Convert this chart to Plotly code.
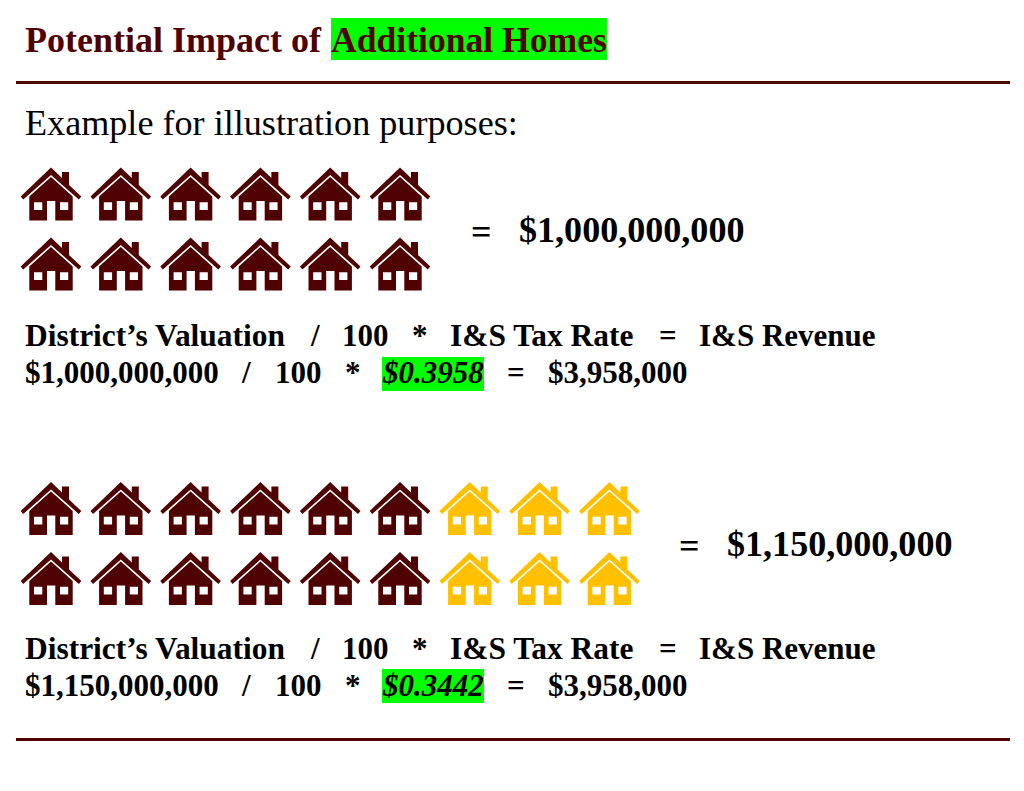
import plotly.graph_objects as go

# ---- data ----
HEADING_PLAIN = "Potential Impact of"
HEADING_MARK = "Additional Homes"
INTRO = "Example for illustration purposes:"
FORMULA_TERMS = ["District’s Valuation", "/", "100", "*", "I&S Tax Rate", "=", "I&S Revenue"]
valuations = ["$1,000,000,000", "$1,150,000,000"]
rates = ["$0.3958", "$0.3442"]
revenues = ["$3,958,000", "$3,958,000"]
existing_home_columns = [6, 6]
added_home_columns = [0, 3]
home_rows = [2, 2]

MAROON = "#4F0000"
GOLD = "#FFC000"
GREEN = "#00FF00"
SERIF = "Liberation Serif"

# ---- layout constants ----
GROUP_TOP = [167.5, 482]
ROW_STEP = 70
COL_STEP = 69.8
FIRST_X = 51
FORMULA_Y = [335, 648]
VALUE_Y = [372.5, 685.5]
BOX_Y = [374, 686]
TOTAL_Y = [230, 544]
TOTAL_EQ_X = [471, 679]
TOTAL_X = [519, 727]


def house_path(cx, top):
    """Pictogram house: cx = apex x, top = apex y."""
    pts = lambda L: "M" + "L".join(f"{cx + a:.1f},{top + b:.1f}" for a, b in L) + "Z"
    roof = [(0, 0), (11, 10.5), (11, 4.5), (18, 4.5), (18, 17.5), (30.3, 29), (27.8, 32),
            (0, 7.5), (-27.8, 32), (-30.3, 29)]
    body = [(0, 9.6), (21.7, 28.9), (21.7, 53), (4.3, 53), (4.3, 33.5), (-4, 33.5), (-4, 53),
            (-21.7, 53), (-21.7, 28.9)]
    win_l = [(-17, 34.8), (-8.7, 34.8), (-8.7, 42.6), (-17, 42.6)]
    win_r = [(9, 34.8), (17.2, 34.8), (17.2, 42.6), (9, 42.6)]
    return pts(roof) + pts(body) + pts(win_l) + pts(win_r)


shapes = []


def rect(x0, y0, x1, y1, color):
    shapes.append(dict(type="rect", x0=x0, y0=y0, x1=x1, y1=y1, fillcolor=color,
                       line=dict(width=0), layer="below"))


def rule(y):
    shapes.append(dict(type="line", x0=16, x1=1010, y0=y, y1=y, line=dict(color=MAROON, width=3)))


annotations = []


def label(x, y, text, size, color="#000000", font=SERIF):
    annotations.append(dict(x=x, y=y, text=text, showarrow=False, xanchor="left", yanchor="middle",
                            xref="x", yref="y", align="left", borderpad=0, borderwidth=0,
                            font=dict(family=font, size=size, color=color)))


rule(82.5)
rule(739.5)
rect(331, 18, 607, 60, GREEN)
label(25, 40, f"<b>{HEADING_PLAIN}</b>", 36, MAROON)
label(331, 40, f"<b>{HEADING_MARK}</b>", 35.6, MAROON)
label(25, 122.5, INTRO, 36.15)

FORMULA_X = [25, 309.5, 341.5, 412, 450, 658.5, 699]
FORMULA_SIZE = [31.45, 31, 31, 31, 31.45, 31, 31]
VALUE_X = [25, 241, 275, 345, 382, 507, 548]
for g in range(2):
    for r in range(home_rows[g]):
        for c in range(existing_home_columns[g] + added_home_columns[g]):
            color = MAROON if c < existing_home_columns[g] else GOLD
            shapes.append(dict(type="path", path=house_path(FIRST_X + c * COL_STEP, GROUP_TOP[g] + r * ROW_STEP),
                               fillcolor=color, fillrule="evenodd", line=dict(width=0), layer="above"))
    label(TOTAL_EQ_X[g], TOTAL_Y[g] + 2, "<b>=</b>", 36)
    label(TOTAL_X[g], TOTAL_Y[g], f"<b>{valuations[g]}</b>", 36.1)
    for x, term, s in zip(FORMULA_X, FORMULA_TERMS, FORMULA_SIZE):
        label(x, FORMULA_Y[g], f"<b>{term}</b>", s)
    rect(382, BOX_Y[g] - 17, 484, BOX_Y[g] + 17, GREEN)
    row = [valuations[g], "/", "100", "*", f"<i>{rates[g]}</i>", "=", revenues[g]]
    for x, term in zip(VALUE_X, row):
        label(x, VALUE_Y[g], f"<b>{term}</b>", 31)

fig = go.Figure()
fig.update_layout(
    width=1024, height=791, margin=dict(l=0, r=0, t=0, b=0),
    paper_bgcolor="white", plot_bgcolor="white", showlegend=False,
    xaxis=dict(range=[0, 1024], visible=False, fixedrange=True),
    yaxis=dict(range=[791, 0], visible=False, fixedrange=True),
    shapes=shapes, annotations=annotations,
)
fig.write_html("out.html", config={"displayModeBar": False},
               post_script="document.body.style.margin='0';")
